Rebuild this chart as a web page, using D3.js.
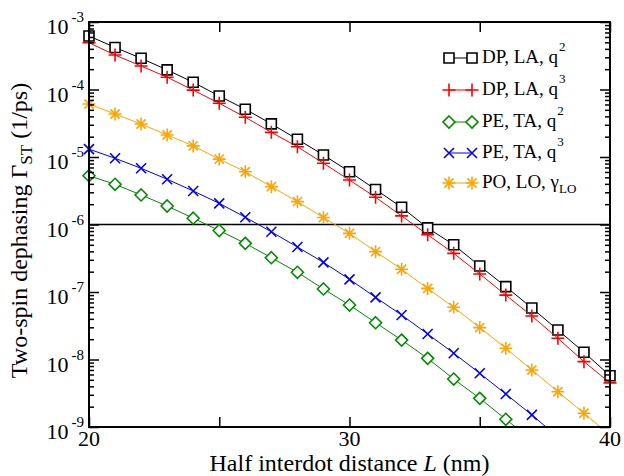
<!DOCTYPE html>
<html>
<head>
<meta charset="utf-8">
<script src="https://cdn.jsdelivr.net/npm/d3@7"></script>
<style>
  body { margin: 0; background: #fff; }
</style>
</head>
<body>
<div id="chart"></div>
<script>
// half interdot distance L (nm)
const distance = [20, 21, 22, 23, 24, 25, 26, 27, 28, 29, 30, 31, 32, 33, 34, 35, 36, 37, 38, 39, 40];

// two-spin dephasing rates (1/ps)
const dpLAq2 = [6.2e-4, 4.2e-4, 2.9e-4, 1.95e-4, 1.28e-4, 8.0e-5, 5.1e-5, 3.1e-5, 1.83e-5, 1.07e-5,
  6.05e-6, 3.3e-6, 1.8e-6, 8.9e-7, 5.0e-7, 2.43e-7, 1.2e-7, 5.8e-8, 2.73e-8, 1.28e-8, 5.75e-9];
const dpLAq3 = [4.93e-4, 3.24e-4, 2.23e-4, 1.52e-4, 9.8e-5, 6.25e-5, 3.88e-5, 2.32e-5, 1.42e-5, 8.07e-6,
  4.56e-6, 2.53e-6, 1.34e-6, 7.06e-7, 3.74e-7, 1.85e-7, 9.0e-8, 4.41e-8, 2.06e-8, 9.3e-9, 4.5e-9];
const peTAq2 = [5.28e-6, 3.94e-6, 2.74e-6, 1.88e-6, 1.24e-6, 8.15e-7, 5.26e-7, 3.22e-7, 1.96e-7, 1.11e-7,
  6.41e-8, 3.51e-8, 1.94e-8, 1.04e-8, 5.14e-9, 2.66e-9, 1.3e-9, 6.4e-10, null, null, null];
const peTAq3 = [1.31e-5, 9.57e-6, 6.8e-6, 4.68e-6, 3.14e-6, 2.06e-6, 1.28e-6, 7.8e-7, 4.64e-7, 2.75e-7,
  1.54e-7, 8.34e-8, 4.56e-8, 2.39e-8, 1.24e-8, 6.25e-9, 3.08e-9, 1.51e-9, 7.1e-10, null, null];
const poLO = [6.1e-5, 4.33e-5, 3.08e-5, 2.12e-5, 1.46e-5, 9.3e-6, 6.05e-6, 3.63e-6, 2.18e-6, 1.27e-6,
  7.4e-7, 3.96e-7, 2.17e-7, 1.13e-7, 5.93e-8, 2.97e-8, 1.47e-8, 6.99e-9, 3.33e-9, 1.6e-9, 7.6e-10];

const xTicks = [20, 25, 30, 35, 40];
const xLabels = [20, 30, 40];
const yDecades = [-9, -8, -7, -6, -5, -4, -3];
const refLine = 1e-6;

const width = 624, height = 476;
const margin = {top: 22, right: 14, bottom: 49, left: 89};
const serif = "'Liberation Serif', 'Times New Roman', Times, 'DejaVu Serif', serif";

const svg = d3.select("#chart").append("svg")
  .attr("width", width)
  .attr("height", height)
  .attr("font-family", serif);

const x = d3.scaleLinear().domain([20, 40]).range([margin.left, width - margin.right]);
const y = d3.scaleLog().domain([1e-9, 1e-3]).range([height - margin.bottom, margin.top]);

svg.append("clipPath").attr("id", "plotclip")
  .append("rect")
  .attr("x", margin.left).attr("y", margin.top)
  .attr("width", x(40) - x(20)).attr("height", y(1e-9) - y(1e-3));

// series setup
const series = [
  {name: "DP, LA, q", sup: "2", values: dpLAq2, color: "#000000", symbol: "square"},
  {name: "DP, LA, q", sup: "3", values: dpLAq3, color: "#ff0000", symbol: "plus"},
  {name: "PE, TA, q", sup: "2", values: peTAq2, color: "#008b00", symbol: "diamond"},
  {name: "PE, TA, q", sup: "3", values: peTAq3, color: "#0000ff", symbol: "cross"},
  {name: "PO, LO, γ", sub: "LO", values: poLO, color: "#ffa500", symbol: "star"}
];

const symbols = {
  square: "M-5,-5h10v10h-10z",
  plus: "M-6.5,0h13M0,-6.5v13",
  diamond: "M0,-6L6,0L0,6L-6,0Z",
  cross: "M-5,-5L5,5M-5,5L5,-5",
  star: "M-6.5,0h13M0,-6.5v13M-4.6,-4.6L4.6,4.6M-4.6,4.6L4.6,-4.6"
};

// reference line at 1e-6
svg.append("line")
  .attr("x1", x(20)).attr("x2", x(40))
  .attr("y1", y(refLine)).attr("y2", y(refLine))
  .attr("stroke", "#000").attr("stroke-width", 1.3);

const line = d3.line()
  .defined(d => d.v != null)
  .x(d => x(d.L))
  .y(d => y(d.v));

series.forEach(s => {
  const pts = distance.map((L, i) => ({L: L, v: s.values[i]}));
  svg.append("path")
    .datum(pts)
    .attr("clip-path", "url(#plotclip)")
    .attr("fill", "none")
    .attr("stroke", s.color)
    .attr("stroke-width", 1)
    .attr("d", line);

  svg.append("g").selectAll("path")
    .data(pts.filter(d => d.v != null && d.v >= 1e-9))
    .enter()
    .append("path")
    .attr("transform", d => `translate(${x(d.L)},${y(d.v)})`)
    .attr("d", symbols[s.symbol])
    .attr("fill", (s.symbol == "square" || s.symbol == "diamond") ? "#fff" : "none")
    .attr("stroke", s.color)
    .attr("stroke-width", 1.6);
});

// axes: ticks inward on all four sides
const yMajor = yDecades.map(e => Math.pow(10, e));
const yMinor = y.ticks().filter(v => Math.abs(Math.log10(v) - Math.round(Math.log10(v))) > 1e-6);

const left = svg.append("g").attr("transform", `translate(${margin.left},0)`);
left.append("g").call(d3.axisLeft(y).tickValues(yMajor).tickSize(-10).tickFormat(""));
left.append("g").call(d3.axisLeft(y).tickValues(yMinor).tickSize(-5).tickFormat(""));
const right = svg.append("g").attr("transform", `translate(${width - margin.right},0)`);
right.append("g").call(d3.axisRight(y).tickValues(yMajor).tickSize(-10).tickFormat(""));
right.append("g").call(d3.axisRight(y).tickValues(yMinor).tickSize(-5).tickFormat(""));

svg.append("g").attr("transform", `translate(0,${height - margin.bottom})`)
  .call(d3.axisBottom(x).tickValues(xTicks).tickSize(-10).tickFormat(""));
svg.append("g").attr("transform", `translate(0,${margin.top})`)
  .call(d3.axisTop(x).tickValues(xTicks).tickSize(-10).tickFormat(""));

svg.selectAll(".domain").remove();
svg.selectAll(".tick line").attr("stroke", "#000").attr("stroke-width", 1.5);

// frame
svg.append("rect")
  .attr("x", margin.left).attr("y", margin.top)
  .attr("width", x(40) - x(20)).attr("height", y(1e-9) - y(1e-3))
  .attr("fill", "none").attr("stroke", "#000").attr("stroke-width", 2);

// y tick labels 10^n
yDecades.forEach(e => {
  const t = svg.append("text")
    .attr("x", margin.left - 5)
    .attr("y", y(Math.pow(10, e)) + 12)
    .attr("text-anchor", "end");
  t.append("tspan").attr("font-size", 22).text("10");
  t.append("tspan").attr("font-size", 15).attr("dx", 3).attr("dy", -12).text(e);
});

// x tick labels
svg.selectAll(".xlab")
  .data(xLabels)
  .enter()
  .append("text")
  .attr("x", d => x(d))
  .attr("y", height - margin.bottom + 19)
  .attr("text-anchor", "middle")
  .attr("font-size", 22)
  .text(d => d);

// axis titles
const xt = svg.append("text")
  .attr("x", (x(20) + x(40)) / 2)
  .attr("y", 471)
  .attr("text-anchor", "middle")
  .attr("font-size", 24);
xt.append("tspan").text("Half interdot distance ");
xt.append("tspan").attr("font-style", "italic").text("L");
xt.append("tspan").text(" (nm)");

const yt = svg.append("text")
  .attr("transform", `translate(27,${(y(1e-9) + y(1e-3)) / 2 + 6}) rotate(-90)`)
  .attr("text-anchor", "middle")
  .attr("font-size", 24);
yt.append("tspan").text("Two-spin dephasing Γ");
yt.append("tspan").attr("font-size", 17).attr("dy", 5).text("ST");
yt.append("tspan").attr("dy", -5).text(" (1/ps)");

// legend
const legendY = [58, 90, 122, 153, 183];
const legend = svg.append("g");
series.forEach((s, i) => {
  const g = legend.append("g").attr("transform", `translate(0,${legendY[i]})`);
  g.append("line").attr("x1", 449).attr("x2", 472)
    .attr("stroke", s.color).attr("stroke-width", 1);
  [449, 472].forEach(px => {
    g.append("path")
      .attr("transform", `translate(${px},0)`)
      .attr("d", symbols[s.symbol])
      .attr("fill", (s.symbol == "square" || s.symbol == "diamond") ? "#fff" : "none")
      .attr("stroke", s.color)
      .attr("stroke-width", 1.6);
  });
  const t = g.append("text").attr("x", 482).attr("y", 5).attr("font-size", 19);
  t.append("tspan").text(s.name);
  if (s.sup) t.append("tspan").attr("font-size", 13).attr("dx", 1).attr("dy", -12).text(s.sup);
  if (s.sub) t.append("tspan").attr("font-size", 13).attr("dy", 5).text(s.sub);
});
</script>
</body>
</html>
